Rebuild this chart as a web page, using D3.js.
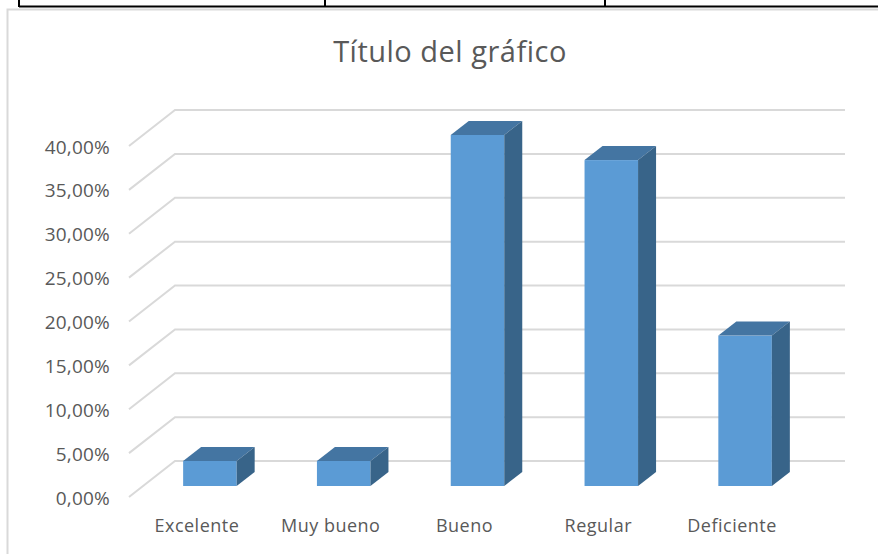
<!DOCTYPE html>
<html>
<head>
<meta charset="utf-8">
<script src="https://cdn.jsdelivr.net/npm/d3@7"></script>
<style>
  html, body { margin: 0; padding: 0; background: #fff; }
  text { font-family: "Open Sans", sans-serif; fill: #595959; }
</style>
</head>
<body>
<div id="chart"></div>
<script>
const categories = ['Excelente', 'Muy bueno', 'Bueno', 'Regular', 'Deficiente'];
const percentages = [2.86, 2.86, 40, 37.14, 17.14];
const tickValues = [0, 5, 10, 15, 20, 25, 30, 35, 40];
const tableColumnEdges = [19, 325, 605, 878];

const width = 878;
const height = 554;
const wallDx = 46, wallDy = 36; // depth of the 3d floor
const barShiftX = 14, barShiftY = 11; // bar front sits this far into the floor
const barDx = 18, barDy = 14; // depth of the bars themselves

const svg = d3.select('#chart').append('svg').attr('width', width).attr('height', height);

const x = d3.scaleBand().domain(categories).range([129, 798]).paddingInner(0.6).paddingOuter(0.3);
const y = d3.scaleLinear().domain([0, 40]).range([497, 146]);

// bit of the table above the chart
svg.append('line').attr('x1', tableColumnEdges[0]).attr('x2', width).attr('y1', 6.5).attr('y2', 6.5)
  .attr('stroke', '#000').attr('stroke-width', 2);
svg.selectAll('.cell-edge').data(tableColumnEdges.slice(0, 3)).enter().append('line')
  .attr('x1', d => d).attr('x2', d => d).attr('y1', 0).attr('y2', 7)
  .attr('stroke', '#000').attr('stroke-width', 2);

// chart frame, runs off the right and bottom of the picture
svg.append('path').attr('d', 'M7.5,' + height + 'V9.5H' + width)
  .attr('fill', 'none').attr('stroke', '#d9d9d9').attr('stroke-width', 2);

svg.append('text').attr('x', 450).attr('y', 62).attr('text-anchor', 'middle')
  .attr('font-size', 29).attr('letter-spacing', 0.5).text('Título del gráfico');

// gridlines: one slanted piece on the floor side, one along the back wall
svg.append('g').selectAll('path').data(tickValues).enter().append('path')
  .attr('d', d => 'M129,' + y(d) + 'L' + (129 + wallDx) + ',' + (y(d) - wallDy) + 'H845')
  .attr('fill', 'none').attr('stroke', '#d9d9d9').attr('stroke-width', 2);

const yAxis = d3.axisLeft(y).tickValues(tickValues).tickSize(0).tickPadding(0)
  .tickFormat(d => d3.format('.2f')(d).replace('.', ',') + '%');
svg.append('g').attr('transform', 'translate(110,1)').call(yAxis)
  .call(g => g.select('.domain').remove())
  .selectAll('text').attr('font-size', 19).attr('letter-spacing', 0.2)
  .style('font-family', '"Open Sans", sans-serif').attr('fill', '#595959');

const bars = svg.selectAll('.bar').data(categories).enter().append('g').attr('class', 'bar')
  .attr('transform', d => 'translate(' + (x(d) + barShiftX) + ',' + (-barShiftY) + ')');

bars.append('rect')
  .attr('x', 0)
  .attr('y', (d, i) => y(percentages[i]))
  .attr('width', x.bandwidth())
  .attr('height', (d, i) => y(0) - y(percentages[i]))
  .attr('fill', '#5b9bd5');

bars.append('path')
  .attr('d', (d, i) => {
    const t = y(percentages[i]), w = x.bandwidth();
    return 'M0,' + t + 'l' + barDx + ',' + (-barDy) + 'h' + w + 'l' + (-barDx) + ',' + barDy + 'Z';
  })
  .attr('fill', '#4475a2');

bars.append('path')
  .attr('d', (d, i) => {
    const t = y(percentages[i]), b = y(0), w = x.bandwidth();
    return 'M' + w + ',' + t + 'l' + barDx + ',' + (-barDy) + 'V' + (b - barDy) + 'l' + (-barDx) + ',' + barDy + 'Z';
  })
  .attr('fill', '#386489');

svg.selectAll('.cat').data(categories).enter().append('text')
  .attr('class', 'cat')
  .attr('x', d => x(d) + x.bandwidth() / 2 + 1)
  .attr('y', 532)
  .attr('text-anchor', 'middle')
  .attr('font-size', 18)
  .attr('letter-spacing', 0.5)
  .text(d => d);
</script>
</body>
</html>
